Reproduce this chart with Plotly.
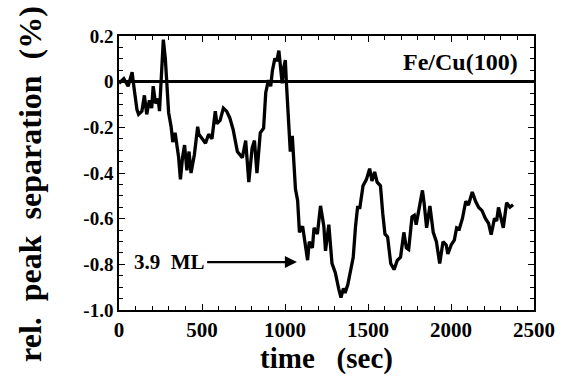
import plotly.graph_objects as go

time_s = [0, 29, 55, 79, 88, 108, 118, 138, 153, 167, 183, 197, 206, 220, 236, 244, 255, 267, 279,
          291, 299, 314, 324, 338, 350, 359, 370, 383, 395, 409, 422, 434, 454, 474, 481, 501, 521,
          540, 560, 580, 590, 609, 629, 649, 668, 688, 713, 743, 763, 782, 802, 816, 831, 851, 871,
          884, 900, 914, 924, 939, 951, 963, 973, 983, 992, 1002, 1008, 1018, 1032, 1044, 1063,
          1076, 1087, 1106, 1126, 1136, 1146, 1165, 1175, 1195, 1214, 1234, 1244, 1264, 1283, 1303,
          1323, 1337, 1352, 1362, 1378, 1392, 1411, 1425, 1437, 1451, 1470, 1490, 1510, 1524, 1540,
          1555, 1575, 1589, 1602, 1618, 1637, 1657, 1677, 1696, 1716, 1731, 1745, 1765, 1779, 1790,
          1804, 1828, 1838, 1853, 1873, 1893, 1912, 1932, 1952, 1971, 1981, 2001, 2020, 2034, 2050,
          2069, 2089, 2105, 2128, 2148, 2167, 2187, 2207, 2226, 2242, 2262, 2275, 2286, 2315, 2335,
          2355, 2374]
separation = [-0.007, 0.013, -0.02, 0.041, -0.013, -0.122, -0.143, -0.129, -0.06, -0.143, -0.082,
              -0.116, -0.02, -0.095, -0.075, -0.129, 0.02, 0.184, 0.102, -0.048, -0.136, -0.197,
              -0.265, -0.224, -0.28, -0.33, -0.428, -0.33, -0.278, -0.388, -0.306, -0.40, -0.32,
              -0.197, -0.23, -0.25, -0.27, -0.23, -0.25, -0.129, -0.184, -0.17, -0.116, -0.13,
              -0.16, -0.211, -0.306, -0.333, -0.258, -0.44, -0.29, -0.258, -0.40, -0.224, -0.204,
              -0.048, 0.007, -0.02, 0.048, 0.102, 0.09, 0.136, 0.075, -0.007, 0.06, 0.095, 0.0,
              -0.156, -0.306, -0.237, -0.47, -0.52, -0.66, -0.633, -0.728, -0.782, -0.701, -0.728,
              -0.64, -0.667, -0.544, -0.633, -0.741, -0.626, -0.796, -0.837, -0.905, -0.946,
              -0.905, -0.925, -0.89, -0.837, -0.769, -0.633, -0.551, -0.551, -0.456, -0.429,
              -0.381, -0.435, -0.395, -0.44, -0.456, -0.578, -0.667, -0.68, -0.796, -0.823,
              -0.782, -0.769, -0.66, -0.728, -0.735, -0.592, -0.585, -0.626, -0.565, -0.476,
              -0.531, -0.64, -0.544, -0.66, -0.701, -0.796, -0.701, -0.715, -0.755, -0.715,
              -0.694, -0.64, -0.645, -0.599, -0.524, -0.54, -0.483, -0.524, -0.551, -0.565,
              -0.599, -0.62, -0.67, -0.599, -0.61, -0.551, -0.64, -0.53, -0.55, -0.539]

x_ticks = [0, 500, 1000, 1500, 2000, 2500]
x_ticktext = ["0", "500", "1000", "1500", "2000", "2500"]
y_ticks = [-1.0, -0.8, -0.6, -0.4, -0.2, 0, 0.2]
y_ticktext = ["-1.0", "-0.8", "-0.6", "-0.4", "-0.2", "0", "0.2"]

label_pos = (2417, 0.086)
arrow_tail = (531, -0.79)
arrow_head = (1072, -0.79)

FONT = "Liberation Serif"


def bold(items):
    return ["<b>%s</b>" % s for s in items]


fig = go.Figure()
fig.add_trace(go.Scatter(x=time_s, y=separation, mode="lines",
                         line=dict(color="black", width=3.3), showlegend=False))

fig.add_annotation(x=label_pos[0], y=label_pos[1], xref="x", yref="y", text="<b>Fe/Cu(100)</b>",
                   showarrow=False, xanchor="right", yanchor="middle",
                   font=dict(family=FONT, size=24, color="black"))
fig.add_annotation(x=arrow_head[0], y=arrow_head[1], ax=arrow_tail[0], ay=arrow_tail[1],
                   xref="x", yref="y", axref="x", ayref="y",
                   text="<b>3.9\u00a0\u00a0ML</b>", showarrow=True, xanchor="right",
                   arrowhead=2, arrowsize=1.1, arrowwidth=2.2, arrowcolor="black",
                   font=dict(family=FONT, size=21, color="black"))
# y-axis title placed as rotated text
fig.add_annotation(x=-0.2146, y=0.46, xref="paper", yref="paper",
                   text="<b>rel.\u00a0\u00a0peak\u00a0\u00a0separation\u00a0\u00a0(%)</b>",
                   textangle=-90, showarrow=False, xanchor="center", yanchor="middle",
                   font=dict(family=FONT, size=32, color="black"))

axis_common = dict(showline=True, linecolor="black", linewidth=1.5, mirror="ticks",
                   ticks="inside", tickcolor="black", tickwidth=1.3, showgrid=False)

fig.update_xaxes(range=[0, 2500], tickvals=x_ticks, ticktext=bold(x_ticktext), ticklen=6,
                 minor=dict(dtick=100, ticks="inside", ticklen=4, tickcolor="black", tickwidth=1),
                 tickfont=dict(family=FONT, size=21, color="black", weight="bold"),
                 title=dict(text="<b>time\u00a0\u00a0\u00a0(sec)</b>", standoff=2,
                            font=dict(family=FONT, size=29, color="black")),
                 zeroline=False, **axis_common)
fig.update_yaxes(range=[-1.0, 0.2], tickvals=y_ticks, ticktext=bold(y_ticktext), ticklen=6,
                 minor=dict(dtick=0.05, ticks="inside", ticklen=4, tickcolor="black", tickwidth=1),
                 tickfont=dict(family=FONT, size=19, color="black", weight="bold"),
                 zeroline=True, zerolinecolor="black", zerolinewidth=2.5, **axis_common)

fig.update_layout(width=567, height=376, margin=dict(l=119, r=24, t=36, b=49),
                  plot_bgcolor="white", paper_bgcolor="white",
                  font=dict(family=FONT, color="black"))

fig.write_html("out.html")
